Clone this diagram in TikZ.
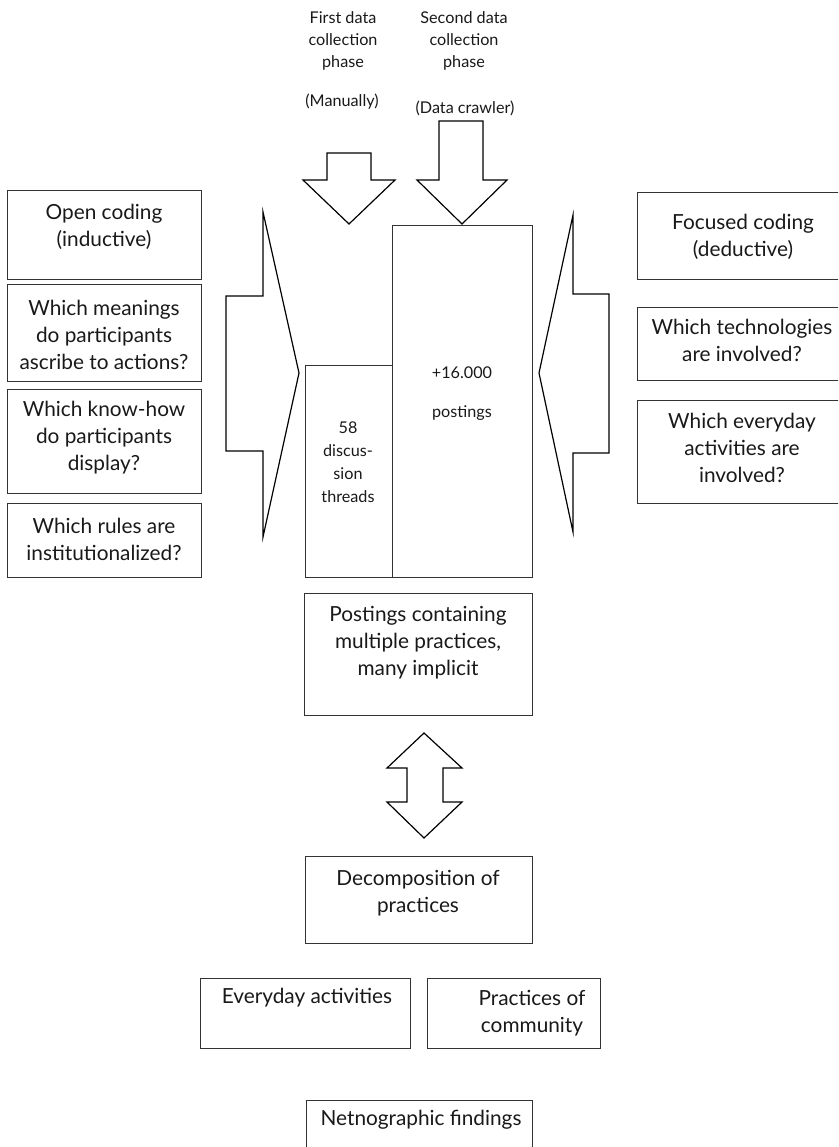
\documentclass[tikz,border=0pt]{standalone}
\usepackage{fontspec}
\setmainfont{Lato}
\begin{document}
\begin{tikzpicture}[x=1pt,y=-1pt,
  box/.style={draw=black!80, line width=1.4pt, rectangle, anchor=north west, inner sep=0pt},
  blk/.style={draw=black, line width=1.2pt, line join=miter, fill=white},
  txt/.style={align=center, font=\fontsize{20.8}{27}\selectfont, text=black!90, inner sep=0pt},
  stxt/.style={align=center, font=\fontsize{16.2}{22}\selectfont, text=black!90, inner sep=0pt}]
\useasboundingbox (0,0) rectangle (838,1147);
\clip (0,0) rectangle (838,1147);

% block arrows
\draw[blk] (327,153) -- (371,153) -- (371,180) -- (395,180) -- (349,224) -- (303,180) -- (327,180) -- cycle;
\draw[blk] (439,121) -- (483,121) -- (483,180) -- (507,180) -- (462,224) -- (417,180) -- (439,180) -- cycle;
\draw[blk] (226,296) -- (263,296) -- (263,212) -- (299,373) -- (263,537) -- (263,451) -- (226,451) -- cycle;
\draw[blk] (609,294) -- (573,294) -- (573,215) -- (539,373) -- (573,532) -- (573,453) -- (609,453) -- cycle;
\draw[blk] (424,733) -- (462,768) -- (443,768) -- (443,802) -- (462,802) -- (424,838) -- (387,802) -- (407,802) -- (407,768) -- (387,768) -- cycle;

% boxes
\node[box, minimum width=194pt, minimum height=89pt] (oc) at (7,190) {};
\node[box, minimum width=194pt, minimum height=97pt] (q1) at (7,284) {};
\node[box, minimum width=194pt, minimum height=104pt] (q2) at (7,389) {};
\node[box, minimum width=194pt, minimum height=74pt] (q3) at (7,503) {};
\node[box, minimum width=208pt, minimum height=87pt] (fc) at (637,192) {};
\node[box, minimum width=208pt, minimum height=73pt] (t1) at (637,307) {};
\node[box, minimum width=208pt, minimum height=103pt] (t2) at (637,400) {};
\node[box, minimum width=140pt, minimum height=352pt] (big) at (392,225) {};
\node[box, minimum width=87pt, minimum height=212pt] (small) at (305,365) {};
\node[box, minimum width=228pt, minimum height=122pt] (post) at (304,593) {};
\node[box, minimum width=227pt, minimum height=87pt] (dec) at (305,856) {};
\node[box, minimum width=210pt, minimum height=70pt] (ev) at (200,978) {};
\node[box, minimum width=173pt, minimum height=70pt] (pc) at (427,978) {};
\node[box, minimum width=226pt, minimum height=70pt] (net) at (306,1100) {};

% texts
\node[stxt] (l1) at (343,41) {First data\\collection\\phase};
\node[stxt] (l1b) at (342,102) {(Manually)};
\node[stxt] (l2) at (464,41) {Second data\\collection\\phase};
\node[stxt] (l2b) at (465,108) {(Data crawler)};

\node[txt] (toc) at (104,226.5) {Open coding\\(inductive)};
\node[txt] (tq1) at (104,334.7) {Which meanings\\do participants\\ascribe to actions?};
\node[txt] (tq2) at (104,438) {Which know-how\\do participants\\display?};
\node[txt] (tq3) at (104,539) {Which rules are\\institutionalized?};

\node[txt] (tfc) at (743,237) {Focused coding\\(deductive)};
\node[txt] (tt1) at (742,340) {Which technologies\\are involved?};
\node[txt] (tt2) at (742,448) {Which everyday\\activities are\\involved?};

\node[stxt] (tbig1) at (462,373) {+16.000};
\node[stxt] (tbig2) at (462,413) {postings};
\node[stxt, font=\fontsize{16.2}{23}\selectfont] (tsmall) at (348,462) {58\\discus-\\sion\\threads};

\node[txt] (tpost) at (418,643) {Postings containing\\multiple practices,\\many implicit};
\node[txt] (tdec) at (418,893) {Decomposition of\\practices};
\node[txt] (tev) at (307,998) {Everyday activities};
\node[txt] (tpc) at (532,1013) {Practices of\\community};
\node[txt] (tnet) at (421,1120) {Netnographic findings};
\end{tikzpicture}
\end{document}
